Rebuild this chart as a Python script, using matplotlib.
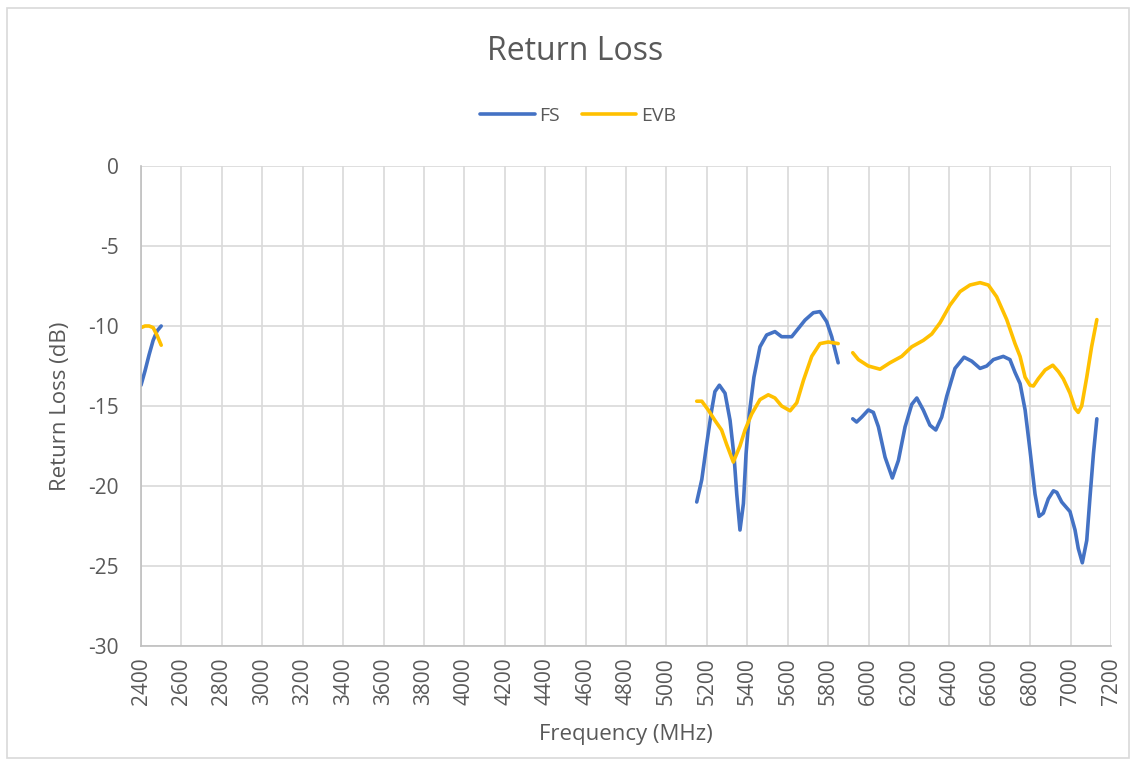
import numpy as np
import matplotlib
matplotlib.use('Agg')
from matplotlib import pyplot as plt
from matplotlib.patches import Rectangle

# FS curve, three bands (nan breaks the line between bands)
fs_freq = [2400, 2420, 2440, 2460, 2480, 2500, np.nan,
           5150, 5175, 5199, 5224, 5240, 5262, 5290, 5315, 5335, 5348, 5364,
           5381, 5394, 5410, 5433, 5463, 5496, 5537, 5570, 5620, 5653, 5686,
           5727, 5760, 5793, 5818, 5850, np.nan,
           5922, 5941, 5966, 5999, 6024, 6049, 6082, 6118, 6148, 6181, 6214,
           6239, 6271, 6304, 6333, 6362, 6387, 6428, 6473, 6511, 6552, 6585,
           6618, 6667, 6700, 6725, 6750, 6775, 6799, 6824, 6844, 6865, 6890,
           6915, 6932, 6956, 6997, 7022, 7038, 7058, 7080, 7096, 7113, 7130]
fs_db = [-13.7, -12.8, -11.8, -10.9, -10.3, -10.0, np.nan,
         -21.0, -19.6, -17.4, -15.25, -14.1, -13.7, -14.2, -15.9, -18.2, -20.5, -22.75,
         -21.1, -18.0, -15.5, -13.2, -11.3, -10.56, -10.35, -10.67, -10.67, -10.15, -9.63,
         -9.17, -9.1, -9.73, -10.67, -12.3, np.nan,
         -15.8, -16.0, -15.7, -15.25, -15.4, -16.3, -18.2, -19.5, -18.4, -16.3, -14.9,
         -14.5, -15.25, -16.2, -16.5, -15.7, -14.4, -12.65, -11.95, -12.2, -12.65, -12.5,
         -12.1, -11.9, -12.1, -12.9, -13.6, -15.25, -17.75, -20.5, -21.9, -21.7, -20.8,
         -20.3, -20.4, -21.0, -21.6, -22.75, -23.9, -24.8, -23.4, -20.7, -18.0, -15.8]

# EVB curve
evb_freq = [2400, 2420, 2440, 2460, 2480, 2500, np.nan,
            5150, 5175, 5207, 5240, 5273, 5298, 5331, 5364, 5389, 5422, 5463,
            5504, 5537, 5570, 5612, 5645, 5678, 5719, 5760, 5801, 5850, np.nan,
            5922, 5950, 5999, 6057, 6106, 6164, 6214, 6271, 6313, 6354, 6403,
            6453, 6502, 6552, 6593, 6634, 6684, 6725, 6750, 6775, 6799, 6816,
            6840, 6874, 6912, 6940, 6964, 6997, 7022, 7038, 7055, 7080, 7104, 7130]
evb_db = [-10.1, -10.0, -10.0, -10.1, -10.6, -11.2, np.nan,
          -14.7, -14.7, -15.25, -15.9, -16.5, -17.4, -18.5, -17.5, -16.5, -15.5, -14.6,
          -14.3, -14.5, -15.0, -15.3, -14.8, -13.4, -11.9, -11.1, -11.0, -11.1, np.nan,
          -11.67, -12.1, -12.5, -12.7, -12.3, -11.9, -11.3, -10.9, -10.5, -9.8, -8.7,
          -7.85, -7.44, -7.29, -7.44, -8.17, -9.6, -11.1, -11.9, -13.2, -13.7, -13.75,
          -13.3, -12.75, -12.45, -12.85, -13.3, -14.2, -15.15, -15.4, -15.0, -13.2, -11.3, -9.6]

x_ticks = list(range(2400, 7201, 200))
y_ticks = [0, -5, -10, -15, -20, -25, -30]

plt.rcParams['font.family'] = ['Open Sans', 'DejaVu Sans']
grey = '#595959'

fig = plt.figure(figsize=(11.36, 7.6), dpi=100, facecolor='w')
ax = fig.add_axes([141 / 1136, 1 - 646 / 760, 970 / 1136, 480 / 760])

ax.plot(fs_freq, fs_db, color='#4472C4', lw=2.6, label='FS',
        solid_capstyle='round', solid_joinstyle='round')
ax.plot(evb_freq, evb_db, color='#FFC000', lw=2.6, label='EVB',
        solid_capstyle='round', solid_joinstyle='round')

ax.set_xlim(2400, 7200)
ax.set_ylim(-30, 0)
ax.set_xticks(x_ticks)
ax.set_yticks(y_ticks)
ax.set_xticklabels([str(t) for t in x_ticks], rotation=90)
ax.set_yticklabels([str(t) for t in y_ticks])
ax.tick_params(colors=grey, labelsize=15, length=0)
ax.tick_params(axis='x', pad=8)
ax.tick_params(axis='y', pad=16)
ax.grid(True, color='#d9d9d9', lw=1.2)
ax.set_axisbelow(True)
for side in ['top', 'right']:
    ax.spines[side].set_visible(False)
for side in ['left', 'bottom']:
    ax.spines[side].set_color('#bfbfbf')
    ax.spines[side].set_linewidth(1.2)

ax.set_xlabel('Frequency (MHz)', color=grey, fontsize=16, labelpad=14)
ax.set_ylabel('Return Loss (dB)', color=grey, fontsize=16, labelpad=12)

fig.text(575 / 1136, 1 - 52 / 760, 'Return Loss', ha='center', va='center',
         fontsize=23, color=grey)
fig.legend(loc='center', bbox_to_anchor=(578 / 1136, 1 - 116 / 760), ncol=2,
           frameon=False, fontsize=14, labelcolor=grey, handlelength=2.8,
           columnspacing=1.1, handletextpad=0.25)

fig.patches.append(Rectangle((7 / 1136, 0.002), 1 - 14 / 1136, 1 - 10 / 760,
                             transform=fig.transFigure, fill=False,
                             edgecolor='#d9d9d9', lw=1.2))

fig.savefig('out.png', dpi=100, facecolor='w')
